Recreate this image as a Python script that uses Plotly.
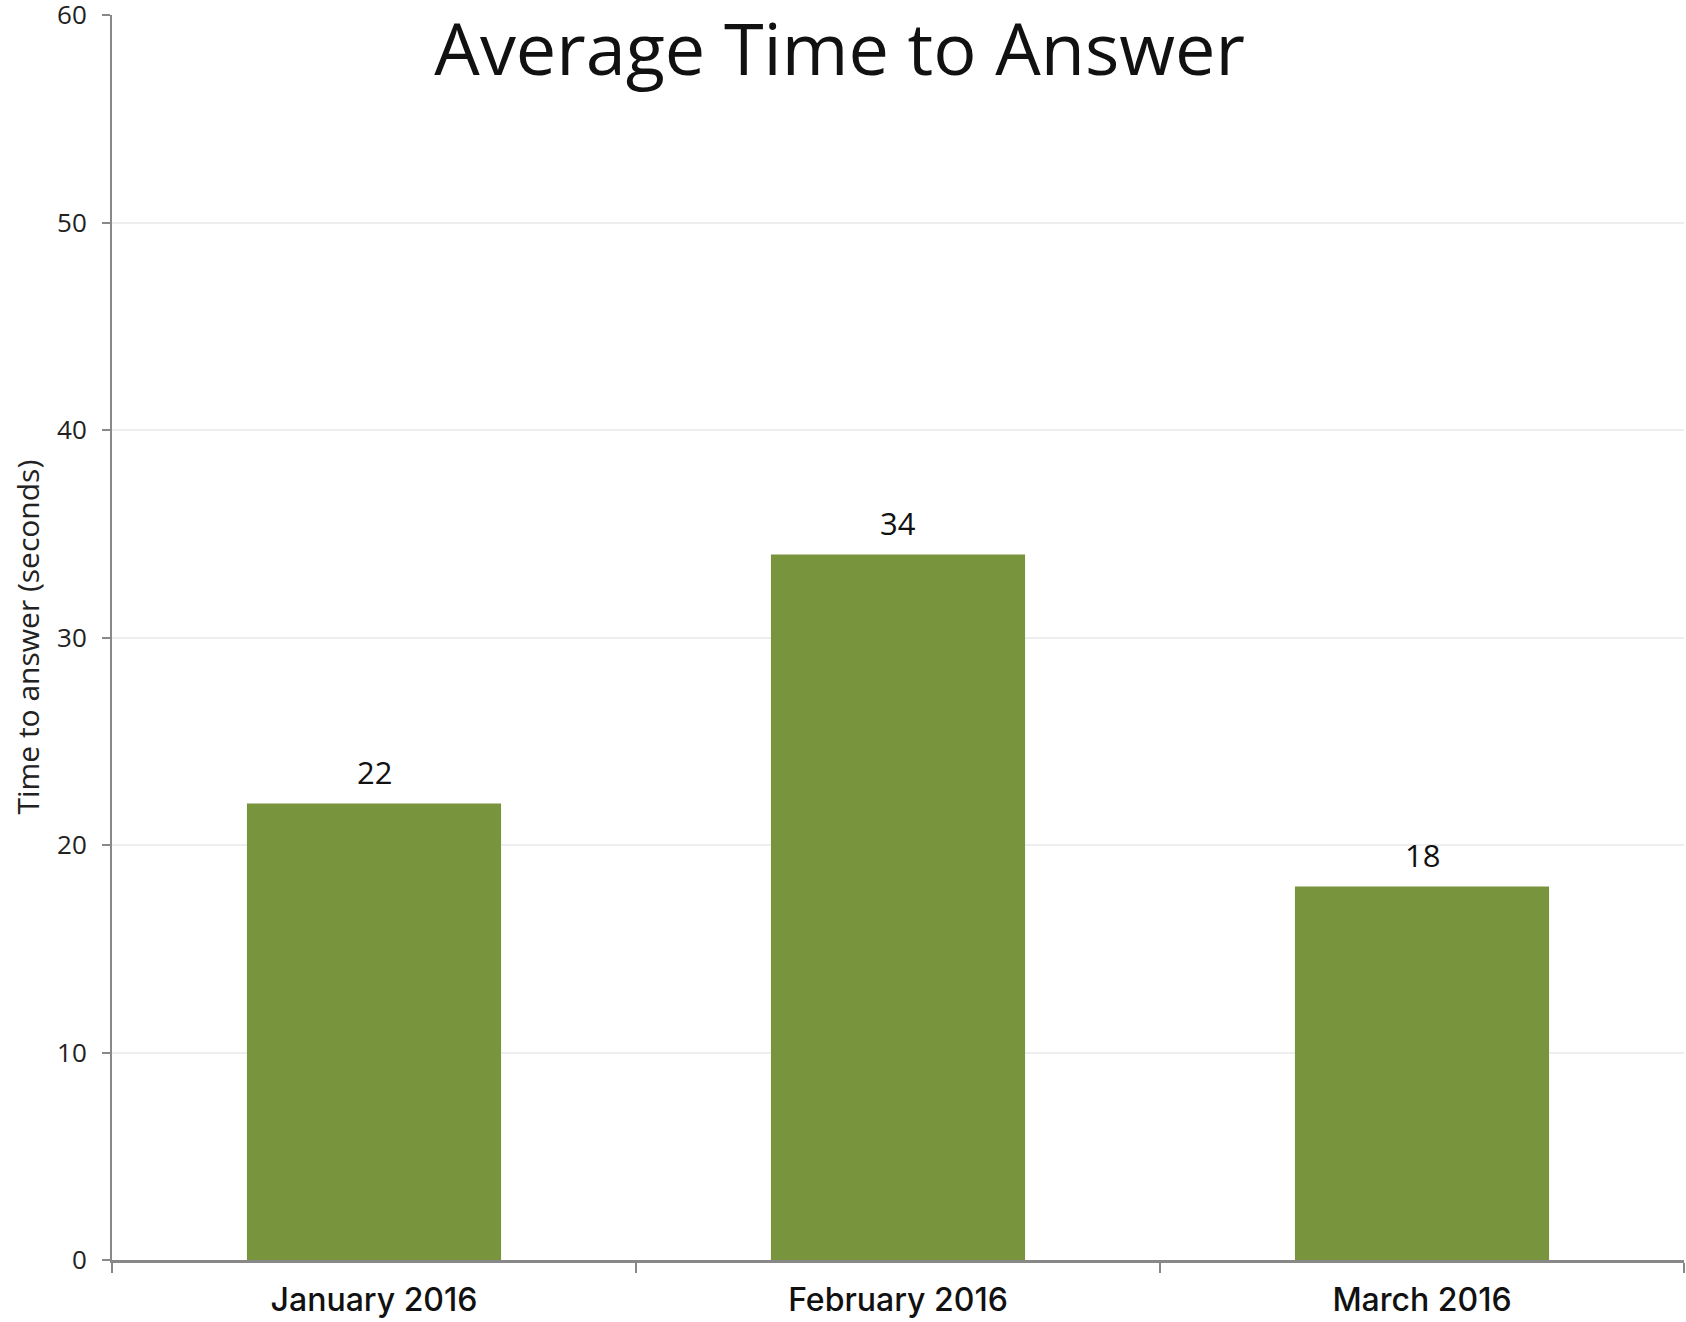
import plotly.graph_objects as go

months = ["January 2016", "February 2016", "March 2016"]
answer_seconds = [22, 34, 18]
y_ticks = [0, 10, 20, 30, 40, 50, 60]

BAR_COLOR = "#78943D"
AXIS_COLOR = "#888888"
FONT = "'Open Sans', Lato, sans-serif"
CAT_FONT = "Inter, 'Open Sans', sans-serif"

fig = go.Figure(
    go.Bar(
        x=months,
        y=answer_seconds,
        marker=dict(color=BAR_COLOR, line=dict(width=0)),
        width=0.485,
        hoverinfo="x+y",
    )
)

# value labels sitting just above each bar
for m, v in zip(months, answer_seconds):
    fig.add_annotation(
        x=m, y=v, text=str(v), showarrow=False,
        yanchor="bottom", yshift=9,
        font=dict(family=FONT, size=31, color="#111111"),
    )

# rotated y-axis caption
fig.add_annotation(
    xref="paper", yref="paper", x=-0.054, y=0.5,
    text="Time to answer (seconds)", textangle=-90, showarrow=False,
    xanchor="center", yanchor="middle",
    font=dict(family=FONT, size=30, color="#222222"),
)

fig.update_layout(
    width=1686, height=1322,
    margin=dict(l=112, r=2, t=15, b=62, autoexpand=False),
    paper_bgcolor="white", plot_bgcolor="white",
    showlegend=False,
    title=dict(
        text="Average Time to Answer",
        x=0.498, xref="container", xanchor="center",
        y=0.962, yref="container", yanchor="middle",
        font=dict(family=FONT, size=72, color="#111111"),
    ),
    xaxis=dict(
        range=[-0.5, 2.5],
        automargin=False,
        showline=True, linecolor=AXIS_COLOR, linewidth=3,
        ticks="outside", tickson="boundaries", ticklen=10, tickcolor=AXIS_COLOR, tickwidth=2,
        showgrid=False,
        ticklabelstandoff=10,
        tickfont=dict(family=CAT_FONT, size=32, color="#111111", weight=500),
    ),
    yaxis=dict(
        range=[0, 60], tickvals=y_ticks,
        automargin=False,
        showline=True, linecolor=AXIS_COLOR, linewidth=2,
        ticks="outside", ticklen=8, tickcolor=AXIS_COLOR, tickwidth=2,
        showgrid=True, gridcolor="#EEEEEE", gridwidth=2,
        zeroline=False,
        ticklabelstandoff=10,
        ticklabeloverflow="allow",
        tickfont=dict(family=FONT, size=26, color="#222222"),
    ),
)

fig.write_html("out.html")
